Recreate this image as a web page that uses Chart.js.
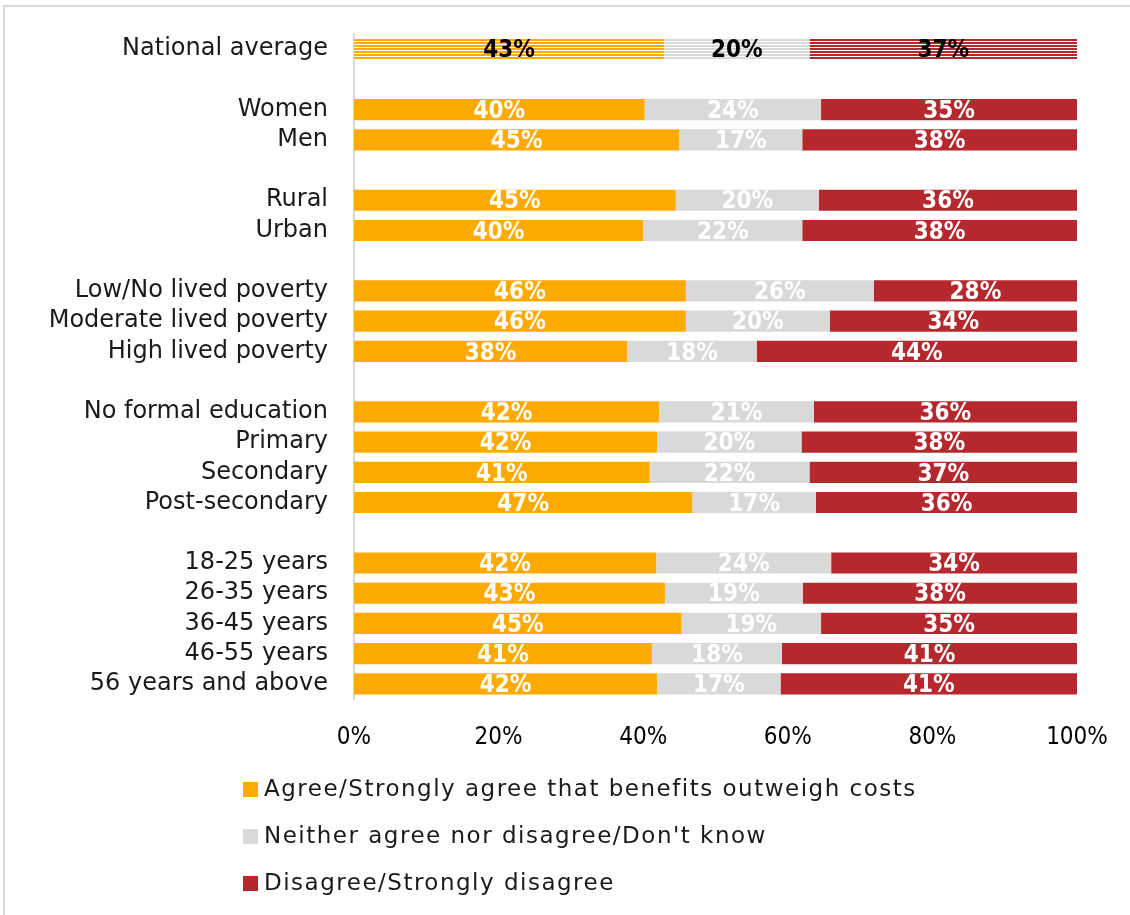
<!DOCTYPE html>
<html>
<head>
<meta charset="utf-8">
<script src="https://cdn.jsdelivr.net/npm/chart.js@4.4.0/dist/chart.umd.min.js"></script>
<style>
  html, body { margin: 0; padding: 0; background: #fff; }
  #wrap { width: 1130px; height: 915px; }
</style>
</head>
<body>
<div id="wrap"><canvas id="surveyChart" width="1130" height="915"></canvas></div>
<script>
// rows, blank strings are the gaps between groups
var categories = ["National average", "", "Women", "Men", "", "Rural", "Urban", "",
    "Low/No lived poverty", "Moderate lived poverty", "High lived poverty", "",
    "No formal education", "Primary", "Secondary", "Post-secondary", "",
    "18-25 years", "26-35 years", "36-45 years", "46-55 years", "56 years and above"];
var agree    = [42.9, null, 40.2, 45.0, null, 44.5, 40.0, null, 45.9, 45.9, 37.8, null, 42.2, 41.9, 40.9, 46.8, null, 41.8, 43.0, 45.3, 41.2, 41.9];
var neutral  = [20.1, null, 24.4, 17.0, null, 19.8, 22.0, null, 26.0, 19.9, 17.9, null, 21.4, 20.0, 22.1, 17.1, null, 24.2, 19.1, 19.3, 18.0, 17.1];
var disagree = [37.0, null, 35.4, 38.0, null, 35.7, 38.0, null, 28.1, 34.2, 44.3, null, 36.4, 38.1, 37.0, 36.1, null, 34.0, 37.9, 35.4, 40.8, 41.0];
var xTicks = [0, 20, 40, 60, 80, 100];
var seriesNames = [
    "Agree/Strongly agree that benefits outweigh costs",
    "Neither agree nor disagree/Don't know",
    "Disagree/Strongly disagree"
];
var seriesColors = ["#FFAA00", "#D9D9D9", "#B4282E"];

var labelFont = "'DejaVu Sans', sans-serif";
var narrowFont = "'Liberation Sans Narrow', 'DejaVu Sans Condensed', sans-serif";

function stripePattern(color) {
    var c = document.createElement('canvas');
    c.width = 4;
    c.height = 3;
    var cx = c.getContext('2d');
    cx.fillStyle = '#ffffff';
    cx.fillRect(0, 0, 4, 3);
    cx.fillStyle = color;
    cx.fillRect(0, 0, 4, 2);
    return cx.createPattern(c, 'repeat');
}

function barColor(color) {
    var pattern = stripePattern(color);
    return function(ctx) {
        // national average row is hatched
        return ctx.dataIndex === 0 ? pattern : color;
    };
}

var framePlugin = {
    id: 'frame',
    beforeDraw: function(chart) {
        var ctx = chart.ctx;
        ctx.save();
        ctx.fillStyle = '#ffffff';
        ctx.fillRect(0, 0, chart.width, chart.height);
        ctx.strokeStyle = '#D9D9D9';
        ctx.lineWidth = 2;
        ctx.strokeRect(4, 6, chart.width + 10, chart.height + 10);
        ctx.restore();
    }
};

var valueLabelsPlugin = {
    id: 'valueLabels',
    afterDatasetsDraw: function(chart) {
        var ctx = chart.ctx;
        ctx.save();
        ctx.font = "bold 24px " + narrowFont;
        ctx.textAlign = 'center';
        ctx.textBaseline = 'middle';
        chart.data.datasets.forEach(function(ds, i) {
            var meta = chart.getDatasetMeta(i);
            meta.data.forEach(function(bar, j) {
                var v = ds.data[j];
                if (v === null) return;
                ctx.fillStyle = j === 0 ? '#000000' : '#ffffff';
                ctx.fillText(Math.round(v) + '%', (bar.x + bar.base) / 2, bar.y + 2);
            });
        });
        ctx.restore();
    }
};

var legendPlugin = {
    id: 'stackedLegend',
    afterDraw: function(chart) {
        var ctx = chart.ctx;
        ctx.save();
        ctx.font = "23px " + labelFont;
        ctx.letterSpacing = '1.5px';
        ctx.textBaseline = 'middle';
        ctx.textAlign = 'left';
        for (var i = 0; i < seriesNames.length; i++) {
            var y = 790 + i * 47;
            ctx.fillStyle = seriesColors[i];
            ctx.fillRect(243, y - 8, 15, 15);
            ctx.fillStyle = '#1a1a1a';
            ctx.fillText(seriesNames[i], 264, y);
        }
        ctx.restore();
    }
};

var datasets = [agree, neutral, disagree].map(function(values, i) {
    return {
        label: seriesNames[i],
        data: values,
        backgroundColor: barColor(seriesColors[i]),
        borderWidth: 0,
        categoryPercentage: 1,
        barPercentage: 0.7
    };
});

var ctx = document.getElementById('surveyChart').getContext('2d');
var surveyChart = new Chart(ctx, {
    type: 'bar',
    data: {
        labels: categories,
        datasets: datasets
    },
    plugins: [framePlugin, valueLabelsPlugin, legendPlugin],
    options: {
        indexAxis: 'y',
        responsive: false,
        animation: false,
        layout: {
            padding: { left: 4, right: 53, top: 34, bottom: 156 }
        },
        plugins: {
            legend: { display: false },
            tooltip: { enabled: false }
        },
        scales: {
            x: {
                stacked: true,
                min: 0,
                max: 100,
                afterBuildTicks: function(scale) {
                    scale.ticks = xTicks.map(function(v) { return { value: v }; });
                },
                afterFit: function(scale) { scale.height = 60; },
                grid: { display: false },
                border: { display: false },
                ticks: {
                    padding: 16,
                    color: '#000000',
                    font: { family: narrowFont, size: 24 },
                    callback: function(v) { return v + '%'; }
                }
            },
            y: {
                stacked: true,
                afterFit: function(scale) {
                    scale.width = 350;
                    // tick padding should only push labels left, not shrink the plot
                    scale.paddingTop = 0;
                    scale.paddingBottom = 0;
                },
                grid: { display: false, drawTicks: false },
                border: { display: true, color: '#D9D9D9', width: 2 },
                ticks: {
                    padding: 26,
                    autoSkip: false,
                    color: '#1a1a1a',
                    font: { family: labelFont, size: 24 }
                }
            }
        }
    }
});
</script>
</body>
</html>
